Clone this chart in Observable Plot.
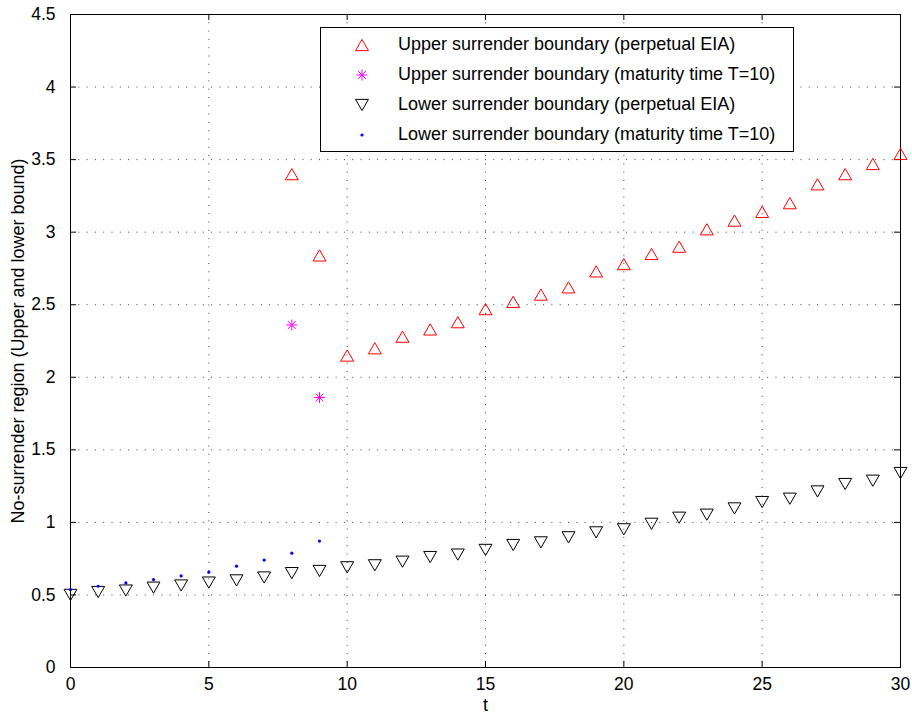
<!DOCTYPE html>
<html>
<head>
<meta charset="utf-8">
<script src="https://cdn.jsdelivr.net/npm/d3@7"></script>
<script src="https://cdn.jsdelivr.net/npm/@observablehq/plot@0.6"></script>
<style>
  html, body { margin: 0; padding: 0; background: #fff; }
  #chart { position: relative; width: 912px; height: 715px; font-family: "Liberation Sans", Arial, Helvetica, sans-serif; }
  #legend {
    position: absolute; left: 320px; top: 27px; width: 472px; height: 123px;
    background: #fff; border: 1px solid #000; box-sizing: content-box;
  }
  #legend .row { position: absolute; left: 0; height: 20px; width: 100%; }
  #legend .row svg { position: absolute; left: 31px; top: 0; }
  #legend .row span { position: absolute; left: 77px; top: -1px; white-space: nowrap; font-size: 18px; color: #000; }
</style>
</head>
<body>
<div id="chart"></div>
<script>
// Time grid (years)
const t = [0, 1, 2, 3, 4, 5, 6, 7, 8, 9, 10, 11, 12, 13, 14, 15, 16, 17, 18, 19, 20,
           21, 22, 23, 24, 25, 26, 27, 28, 29, 30];

// Upper surrender boundary, perpetual EIA (defined from t = 8)
const upperPerpT = [8, 9, 10, 11, 12, 13, 14, 15, 16, 17, 18, 19, 20, 21, 22, 23, 24, 25, 26, 27, 28, 29, 30];
const upperPerp = [3.40, 2.84, 2.15, 2.20, 2.28, 2.33, 2.38, 2.47, 2.52, 2.57, 2.62, 2.73,
                   2.78, 2.85, 2.90, 3.02, 3.08, 3.14, 3.20, 3.33, 3.40, 3.47, 3.54];

// Upper surrender boundary, maturity T = 10
const upperMatT = [8, 9];
const upperMat = [2.36, 1.86];

// Lower surrender boundary, perpetual EIA
const lowerPerp = [0.50, 0.52, 0.53, 0.55, 0.565, 0.585, 0.60, 0.62, 0.65, 0.665, 0.69,
                   0.704, 0.729, 0.761, 0.778, 0.81, 0.844, 0.862, 0.897, 0.931, 0.952,
                   0.99, 1.032, 1.053, 1.096, 1.14, 1.163, 1.213, 1.264, 1.287, 1.34];

// Lower surrender boundary, maturity T = 10
const lowerMatT = [0, 1, 2, 3, 4, 5, 6, 7, 8, 9];
const lowerMat = [0.537, 0.56, 0.583, 0.606, 0.631, 0.657, 0.698, 0.74, 0.788, 0.871];

// Axis ticks
const xTicks = [0, 5, 10, 15, 20, 25, 30];
const yTicks = [0, 0.5, 1, 1.5, 2, 2.5, 3, 3.5, 4, 4.5];
const yTickLabels = ["0", "0.5", "1", "1.5", "2", "2.5", "3", "3.5", "4", "4.5"];

const xLabel = "t";
const yLabel = "No-surrender region (Upper and lower bound)";

const legendItems = [
  "Upper surrender boundary (perpetual EIA)",
  "Upper surrender boundary (maturity time T=10)",
  "Lower surrender boundary (perpetual EIA)",
  "Lower surrender boundary (maturity time T=10)"
];

const upperPerpData = upperPerpT.map((x, i) => ({t: x, v: upperPerp[i]}));
const upperMatData = upperMatT.map((x, i) => ({t: x, v: upperMat[i]}));
const lowerPerpData = t.map((x, i) => ({t: x, v: lowerPerp[i]}));
const lowerMatData = lowerMatT.map((x, i) => ({t: x, v: lowerMat[i]}));

// Eight-armed asterisk (plus + cross)
const star8 = {
  draw(ctx, size) {
    const r = Math.sqrt(size / Math.PI);
    const d = r * Math.SQRT1_2;
    ctx.moveTo(-r, 0); ctx.lineTo(r, 0);
    ctx.moveTo(0, -r); ctx.lineTo(0, r);
    ctx.moveTo(-d, -d); ctx.lineTo(d, d);
    ctx.moveTo(-d, d); ctx.lineTo(d, -d);
  }
};

const W = 912, H = 715;
const mL = 70, mR = 12, mT = 14, mB = 48;
const innerW = W - mL - mR, innerH = H - mT - mB;
const tick = 6;
const grid = {stroke: "#000", strokeOpacity: 0.75, strokeDasharray: "1,7.3"};

const chart = Plot.plot({
  width: W, height: H,
  marginLeft: mL, marginRight: mR, marginTop: mT, marginBottom: mB,
  style: {fontFamily: "'Liberation Sans', Arial, Helvetica, sans-serif", fontSize: "17px", background: "#fff", color: "#000"},
  x: {domain: [0, 30], axis: null},
  y: {domain: [0, 4.5], axis: null},
  marks: [
    Plot.gridX(xTicks, grid),
    Plot.gridY(yTicks, grid),
    // inward tick marks on all four sides
    Plot.ruleX(xTicks, {x: d => d, insetTop: innerH - tick, stroke: "#000"}),
    Plot.ruleX(xTicks, {x: d => d, insetBottom: innerH - tick, stroke: "#000"}),
    Plot.ruleY(yTicks, {y: d => d, insetRight: innerW - tick, stroke: "#000"}),
    Plot.ruleY(yTicks, {y: d => d, insetLeft: innerW - tick, stroke: "#000"}),
    Plot.frame({stroke: "#000", strokeWidth: 1}),
    // tick labels
    Plot.text(xTicks, {x: d => d, frameAnchor: "bottom", lineAnchor: "top", dy: 10, text: d => String(d), fontSize: 17.5}),
    Plot.text(yTicks, {y: d => d, frameAnchor: "left", textAnchor: "end", dx: -15, text: (d, i) => yTickLabels[i], fontSize: 17.5}),
    // axis titles
    Plot.text([xLabel], {frameAnchor: "bottom", lineAnchor: "middle", dy: 38, text: d => d, fontSize: 18}),
    Plot.text([yLabel], {frameAnchor: "left", textAnchor: "middle", lineAnchor: "middle", rotate: -90, dx: -52, text: d => d, fontSize: 18}),
    // series
    Plot.dot(upperPerpData, {x: "t", y: "v", symbol: "triangle", r: 4.8, stroke: "#ff0000", fill: "none", strokeWidth: 1, dy: 1.9}),
    Plot.dot(upperMatData, {x: "t", y: "v", symbol: star8, r: 5.5, stroke: "#ff00ff", fill: "none", strokeWidth: 1}),
    Plot.dot(lowerPerpData, {x: "t", y: "v", symbol: "triangle", rotate: 180, r: 4.8, stroke: "#000", fill: "none", strokeWidth: 1, dy: -1.9}),
    Plot.dot(lowerMatData, {x: "t", y: "v", r: 1.6, fill: "#0000ff", stroke: "none"})
  ]
});

const container = document.getElementById("chart");
container.appendChild(chart);

// Legend box
const legend = d3.select(container).append("div").attr("id", "legend");
const rowTops = [7, 37, 67, 97];
const swatches = [
  g => g.append("path").attr("d", d3.symbol(d3.symbolTriangle, 4.8 * 4.8 * Math.PI)()).attr("transform", "translate(10,11.9)")
        .attr("fill", "none").attr("stroke", "#ff0000"),
  g => g.append("path").attr("d", d3.symbol(star8, 5.5 * 5.5 * Math.PI)()).attr("transform", "translate(10,10)")
        .attr("fill", "none").attr("stroke", "#ff00ff"),
  g => g.append("path").attr("d", d3.symbol(d3.symbolTriangle, 4.8 * 4.8 * Math.PI)()).attr("transform", "translate(10,8.1) rotate(180)")
        .attr("fill", "none").attr("stroke", "#000"),
  g => g.append("circle").attr("cx", 10).attr("cy", 10).attr("r", 1.6).attr("fill", "#0000ff")
];
legendItems.forEach((label, i) => {
  const row = legend.append("div").attr("class", "row").style("top", rowTops[i] + "px");
  const svg = row.append("svg").attr("width", 20).attr("height", 20);
  swatches[i](svg);
  row.append("span").text(label);
});
</script>
</body>
</html>
